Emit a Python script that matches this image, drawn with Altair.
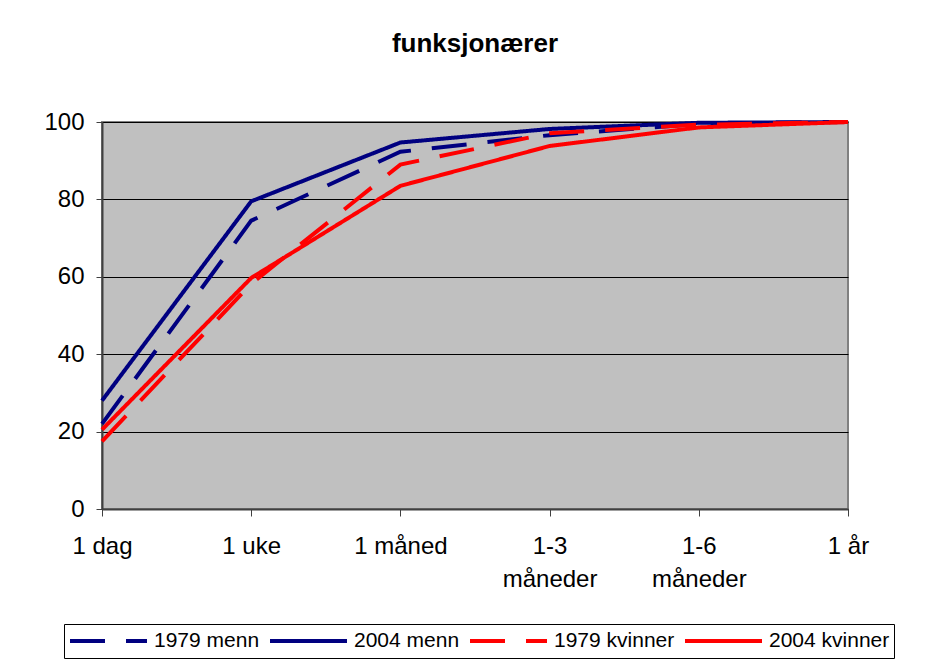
import altair as alt
import pandas as pd

categories = ["1 dag", "1 uke", "1 måned", "1-3 måneder", "1-6 måneder", "1 år"]
series_names = ["1979 menn", "2004 menn", "1979 kvinner", "2004 kvinner"]
menn_1979 = [22, 74.5, 92.3, 96.6, 99.5, 100]
menn_2004 = [28, 79.5, 94.7, 98.2, 99.8, 100]
kvinner_1979 = [17.5, 58.2, 89.0, 97.1, 99.3, 100]
kvinner_2004 = [20.5, 59.7, 83.5, 93.8, 98.6, 100]
y_ticks = [0, 20, 40, 60, 80, 100]

series_values = [menn_1979, menn_2004, kvinner_1979, kvinner_2004]
rows = []
for name, vals in zip(series_names, series_values):
    for c, v in zip(categories, vals):
        rows.append({"periode": c, "verdi": v, "serie": name})
df = pd.DataFrame(rows)

colors = ["#000080", "#000080", "#FF0000", "#FF0000"]
dashes = [[35, 21], [1, 0], [35, 21], [1, 0]]

legend_opts = dict(title=None, orient="none", legendX=-38, legendY=502,
                   direction="horizontal", columns=4, symbolType="stroke",
                   symbolSize=5929, symbolStrokeWidth=4, labelFontSize=21,
                   labelFont="Liberation Sans", labelColor="black",
                   labelOffset=5, columnPadding=8, padding=4, clipHeight=26,
                   strokeColor="black", fillColor="white", labelLimit=300)

chart = alt.Chart(df).mark_line(strokeWidth=4, strokeCap="butt", strokeJoin="miter").encode(
    x=alt.X("periode:N", sort=categories,
            scale=alt.Scale(type="point", padding=0),
            axis=alt.Axis(title=None, labelAngle=0, labelFontSize=24, labelFont="Liberation Sans",
                          labelColor="black", labelPadding=18, tickSize=7, tickColor="#404040",
                          domainColor="#404040", domainWidth=2, labelLineHeight=33,
                          labelBaseline="top",
                          labelExpr="indexof(datum.label, 'måneder') > 0 ? split(datum.label, ' ') : datum.label")),
    y=alt.Y("verdi:Q", scale=alt.Scale(domain=[0, 100], nice=False),
            axis=alt.Axis(title=None, values=y_ticks, labelFontSize=24, labelFont="Liberation Sans",
                          labelColor="black", labelPadding=12, tickSize=6, tickColor="#404040",
                          domainColor="#404040", domainWidth=2, grid=True, gridColor="black",
                          gridWidth=1, gridOpacity=1)),
    color=alt.Color("serie:N", scale=alt.Scale(domain=series_names, range=colors),
                    legend=alt.Legend(**legend_opts)),
    strokeDash=alt.StrokeDash("serie:N", scale=alt.Scale(domain=series_names, range=dashes),
                              legend=alt.Legend(**legend_opts)),
    detail=alt.Detail("serie:N"),
).properties(
    width=746, height=387,
    background="white",
    title=alt.TitleParams("funksjonærer", fontSize=26, font="Liberation Sans", fontWeight="bold",
                          color="black", anchor="middle", offset=53),
    autosize=alt.AutoSizeParams(type="none"),
    padding={"left": 94, "top": 114, "right": 60, "bottom": 150},
).configure_view(
    fill="#C0C0C0", stroke="#808080", strokeWidth=2
)

chart.save("out.html", embed_options={"renderer": "svg", "actions": False})
